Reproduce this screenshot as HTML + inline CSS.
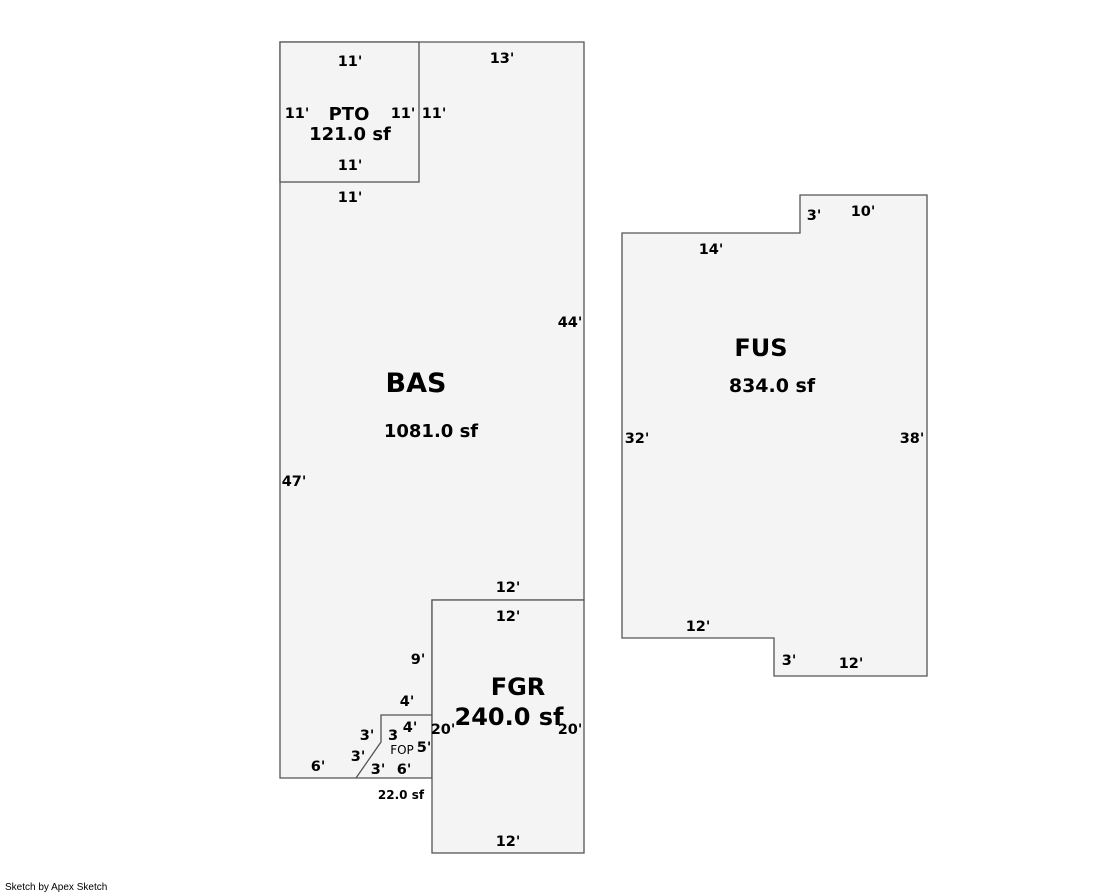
<!DOCTYPE html>
<html><head><meta charset="utf-8"><style>
html,body{margin:0;padding:0;background:#fff;width:1119px;height:893px;overflow:hidden}
svg{display:block}
text{font-family:"DejaVu Sans","Liberation Sans",sans-serif;font-weight:bold;fill:#000}
text.n{font-weight:normal}
</style></head><body>
<svg width="1119" height="893" viewBox="0 0 1119 893">
<g stroke="#555" stroke-width="1.3" fill="#f4f4f4">
<polygon points="280,42 584,42 584,600 432,600 432,778 280,778"/>
<rect x="432" y="600" width="152" height="253"/>
<rect x="280" y="42" width="139" height="140"/>
<polygon points="622,233 800,233 800,195 927,195 927,676 774,676 774,638 622,638"/>
<polyline points="432,715 381,715 381,742 356,778" fill="none"/>
</g>
<g font-size="14.5" text-anchor="middle">
<text x="350" y="66">11'</text>
<text x="502" y="63">13'</text>
<text x="297" y="118">11'</text>
<text x="403" y="118">11'</text>
<text x="434" y="118">11'</text>
<text x="350" y="170">11'</text>
<text x="350" y="202">11'</text>
<text x="570" y="327">44'</text>
<text x="294" y="486">47'</text>
<text x="508" y="592">12'</text>
<text x="508" y="621">12'</text>
<text x="418" y="664">9'</text>
<text x="407" y="706">4'</text>
<text x="410" y="732">4'</text>
<text x="367" y="740">3'</text>
<text x="393" y="740">3</text>
<text x="358" y="761">3'</text>
<text x="424" y="752">5'</text>
<text x="443" y="734">20'</text>
<text x="570" y="734">20'</text>
<text x="318" y="771">6'</text>
<text x="378" y="774">3'</text>
<text x="404" y="774">6'</text>
<text x="508" y="846">12'</text>
<text x="711" y="254">14'</text>
<text x="814" y="220">3'</text>
<text x="863" y="216">10'</text>
<text x="637" y="443">32'</text>
<text x="912" y="443">38'</text>
<text x="698" y="631">12'</text>
<text x="789" y="665">3'</text>
<text x="851" y="668">12'</text>
</g>
<g text-anchor="middle">
<text x="349" y="120" font-size="18">PTO</text>
<text x="350" y="140" font-size="18">121.0 sf</text>
<text x="416" y="392" font-size="27">BAS</text>
<text x="431" y="437" font-size="18">1081.0 sf</text>
<text x="761" y="356" font-size="24">FUS</text>
<text x="772" y="392" font-size="19">834.0 sf</text>
<text x="518" y="695" font-size="24">FGR</text>
<text x="509" y="725" font-size="24">240.0 sf</text>
<text class="n" x="402" y="754" font-size="12">FOP</text>
<text x="401" y="799" font-size="12">22.0 sf</text>
</g>
<text class="n" x="5" y="890" font-size="10" style="font-family:'Liberation Sans',sans-serif">Sketch by Apex Sketch</text>
</svg>
</body></html>
